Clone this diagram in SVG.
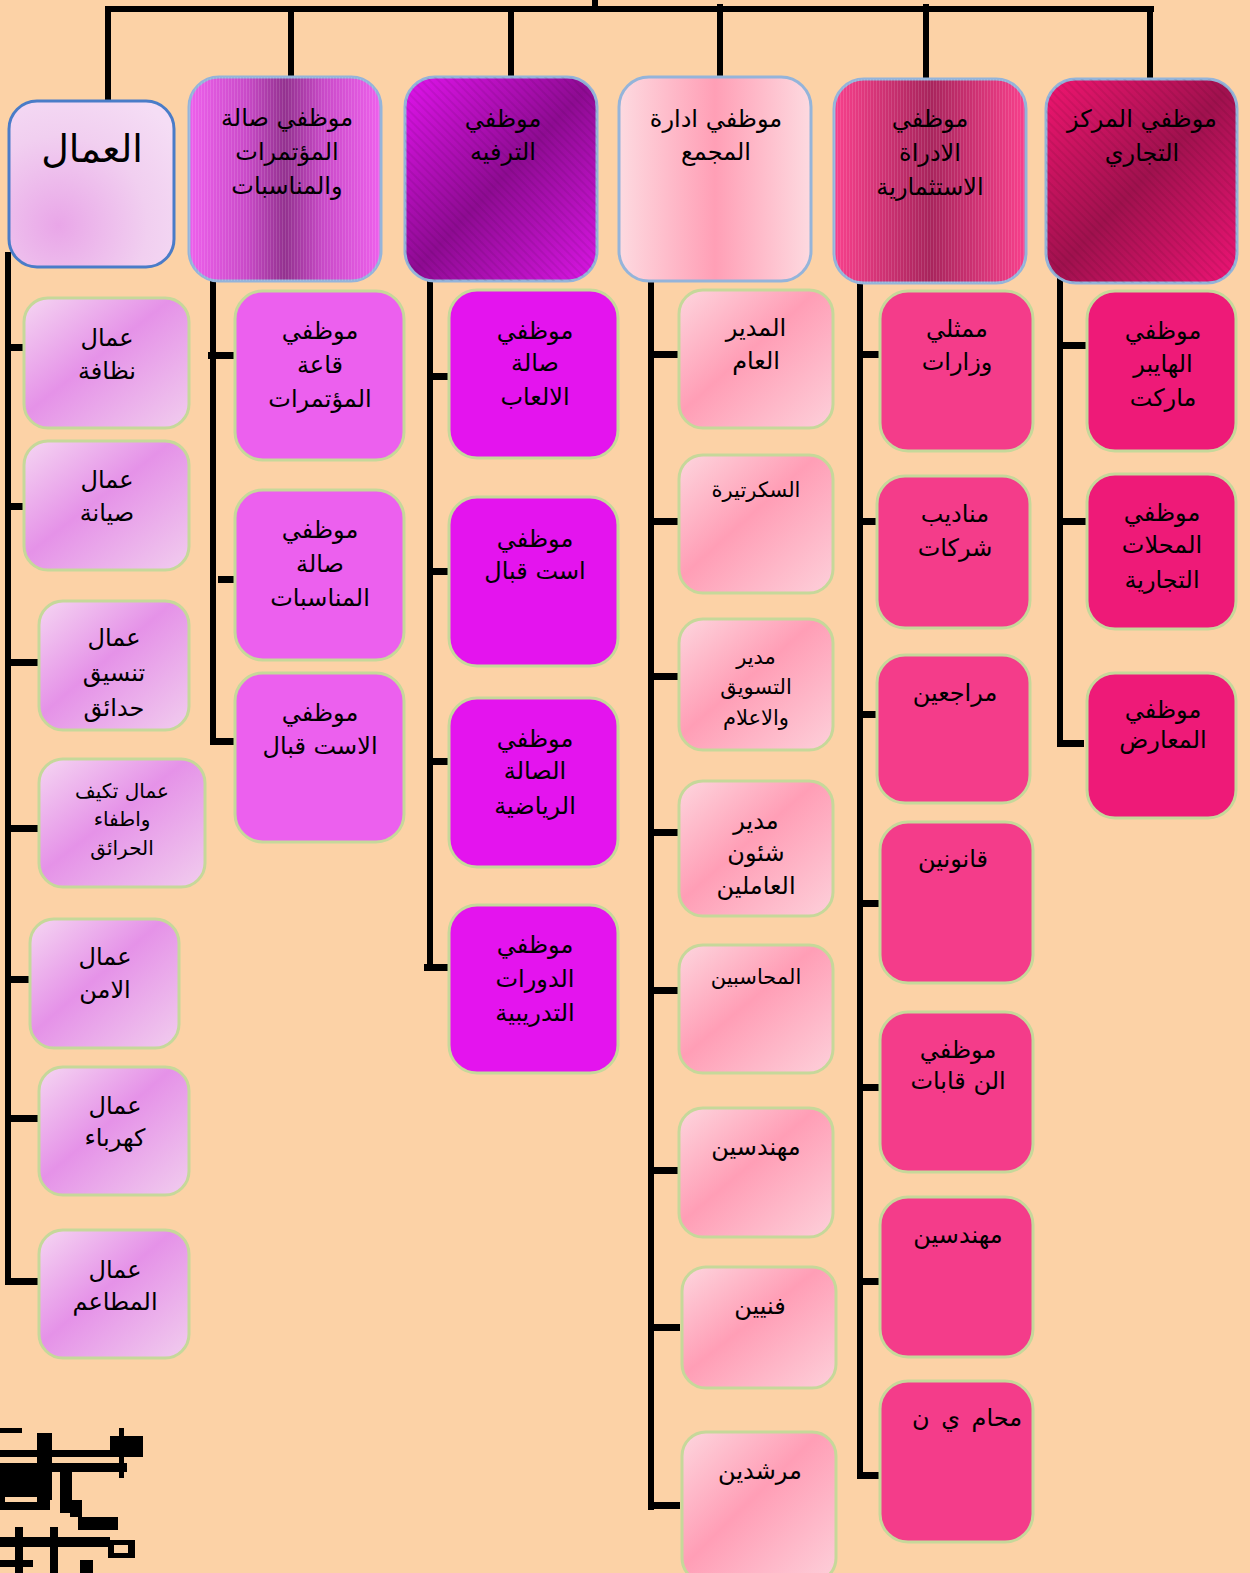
<svg xmlns="http://www.w3.org/2000/svg" width="1250" height="1573" viewBox="0 0 1250 1573">
<defs>
<style>
.t{font-family:"DejaVu Sans",sans-serif;fill:#000;text-anchor:middle;direction:rtl}
.h{font-size:24px}
.c{font-size:24px}
.s{font-size:21px}
.m{font-size:20px}
.hb{stroke:#94B4DA;stroke-width:3}
.cb{stroke:#C6D89A;stroke-width:3}
.ln{fill:#000}
</style>
<radialGradient id="g1h" cx="0.3" cy="0.75" r="0.9">
<stop offset="0" stop-color="#E9A6E8"/>
<stop offset="0.6" stop-color="#F1CFF0"/>
<stop offset="1" stop-color="#F5DDF5"/>
</radialGradient>
<linearGradient id="g1c" x1="0" y1="0" x2="1" y2="1">
<stop offset="0" stop-color="#F5D6F2"/>
<stop offset="0.45" stop-color="#E592E8"/>
<stop offset="1" stop-color="#F1CDEE"/>
</linearGradient>
<linearGradient id="g2h" x1="0" y1="0" x2="1" y2="0">
<stop offset="0" stop-color="#EE60EC"/>
<stop offset="0.3" stop-color="#C94AC8"/>
<stop offset="0.5" stop-color="#93318F"/>
<stop offset="0.7" stop-color="#C94AC8"/>
<stop offset="1" stop-color="#EE60EC"/>
</linearGradient>
<linearGradient id="g3h" x1="0" y1="0" x2="1" y2="1">
<stop offset="0" stop-color="#E014EC"/>
<stop offset="0.2" stop-color="#C010C8"/>
<stop offset="0.5" stop-color="#8E0B92"/>
<stop offset="1" stop-color="#DA16E4"/>
</linearGradient>
<linearGradient id="g4h" x1="0" y1="0" x2="1" y2="0">
<stop offset="0" stop-color="#FDDAE0"/>
<stop offset="0.5" stop-color="#FF9FB6"/>
<stop offset="1" stop-color="#FDDAE0"/>
</linearGradient>
<linearGradient id="g4c" x1="0" y1="0" x2="1" y2="1">
<stop offset="0" stop-color="#FDD6DE"/>
<stop offset="0.45" stop-color="#FF9EB6"/>
<stop offset="1" stop-color="#FDD0DA"/>
</linearGradient>
<linearGradient id="g5h" x1="0" y1="0" x2="1" y2="0">
<stop offset="0" stop-color="#F8408C"/>
<stop offset="0.5" stop-color="#A8245C"/>
<stop offset="1" stop-color="#F8408C"/>
</linearGradient>
<linearGradient id="g6h" x1="0" y1="0" x2="1" y2="1">
<stop offset="0" stop-color="#F01570"/>
<stop offset="0.5" stop-color="#A0114E"/>
<stop offset="1" stop-color="#EE1475"/>
</linearGradient>
<pattern id="vs" width="3" height="10" patternUnits="userSpaceOnUse">
<rect x="0" y="0" width="1" height="10" fill="#fff" fill-opacity="0.12"/>
</pattern>
<pattern id="ds" width="6" height="6" patternUnits="userSpaceOnUse" patternTransform="rotate(-45)">
<rect x="0" y="0" width="2" height="6" fill="#000" fill-opacity="0.07"/>
</pattern>
</defs>
<rect x="0" y="0" width="1250" height="1573" fill="#FCD2A6"/>

<g id="connectors">
<rect class="ln" x="105" y="6" width="1049" height="6"/>
<rect class="ln" x="592" y="0" width="6" height="12"/>
<rect class="ln" x="105" y="9" width="6" height="95"/>
<rect class="ln" x="288" y="9" width="6" height="87"/>
<rect class="ln" x="508" y="9" width="6" height="87"/>
<rect class="ln" x="717" y="4" width="6" height="92"/>
<rect class="ln" x="923" y="4" width="6" height="92"/>
<rect class="ln" x="1147" y="10" width="6" height="88"/>
<rect class="ln" x="5" y="252" width="6" height="1032"/>
<rect class="ln" x="5" y="344" width="33" height="7"/>
<rect class="ln" x="5" y="503" width="33" height="7"/>
<rect class="ln" x="5" y="659" width="33" height="7"/>
<rect class="ln" x="5" y="825" width="33" height="7"/>
<rect class="ln" x="5" y="976" width="33" height="7"/>
<rect class="ln" x="5" y="1115" width="33" height="7"/>
<rect class="ln" x="5" y="1278" width="33" height="7"/>
<rect class="ln" x="210" y="265" width="6" height="474"/>
<rect class="ln" x="208" y="352" width="27" height="7"/>
<rect class="ln" x="218" y="576" width="27" height="7"/>
<rect class="ln" x="210" y="738" width="32" height="7"/>
<rect class="ln" x="427" y="265" width="6" height="706"/>
<rect class="ln" x="427" y="373" width="34" height="7"/>
<rect class="ln" x="427" y="568" width="33" height="7"/>
<rect class="ln" x="427" y="758" width="33" height="7"/>
<rect class="ln" x="424" y="964" width="36" height="7"/>
<rect class="ln" x="648" y="261" width="6" height="1249"/>
<rect class="ln" x="648" y="351" width="32" height="7"/>
<rect class="ln" x="648" y="518" width="32" height="7"/>
<rect class="ln" x="648" y="673" width="32" height="7"/>
<rect class="ln" x="648" y="829" width="32" height="7"/>
<rect class="ln" x="648" y="987" width="32" height="7"/>
<rect class="ln" x="648" y="1167" width="32" height="7"/>
<rect class="ln" x="648" y="1324" width="32" height="7"/>
<rect class="ln" x="648" y="1502" width="32" height="7"/>
<rect class="ln" x="857" y="265" width="6" height="1214"/>
<rect class="ln" x="857" y="351" width="31" height="7"/>
<rect class="ln" x="857" y="518" width="31" height="7"/>
<rect class="ln" x="857" y="711" width="31" height="7"/>
<rect class="ln" x="857" y="900" width="31" height="7"/>
<rect class="ln" x="857" y="1084" width="31" height="7"/>
<rect class="ln" x="857" y="1278" width="31" height="7"/>
<rect class="ln" x="857" y="1472" width="31" height="7"/>
<rect class="ln" x="1057" y="261" width="6" height="486"/>
<rect class="ln" x="1063" y="342" width="25" height="7"/>
<rect class="ln" x="1057" y="518" width="31" height="7"/>
<rect class="ln" x="1057" y="740" width="27" height="7"/>
</g>

<g id="h1"><rect x="9" y="101" width="165" height="166" rx="28" fill="url(#g1h)" stroke="#4A7CC8" stroke-width="3"/>
<text class="t" x="92" y="162" font-size="38">العمال</text></g>
<g id="h2"><rect x="189" y="77" width="192" height="204" rx="30" fill="url(#g2h)" class="hb"/><rect x="189" y="77" width="192" height="204" rx="30" fill="url(#vs)"/>
<text class="t h" x="287" y="126">موظفي صالة</text><text class="t h" x="287" y="160">المؤتمرات</text><text class="t h" x="287" y="194">والمناسبات</text></g>
<g id="h3"><rect x="405" y="77" width="192" height="204" rx="30" fill="url(#g3h)" class="hb"/><rect x="405" y="77" width="192" height="204" rx="30" fill="url(#ds)"/>
<text class="t h" x="503" y="127">موظفي</text><text class="t h" x="503" y="160">الترفيه</text></g>
<g id="h4"><rect x="619" y="77" width="192" height="204" rx="30" fill="url(#g4h)" class="hb"/>
<text class="t h" x="716" y="127">موظفي ادارة</text><text class="t h" x="716" y="160">المجمع</text></g>
<g id="h5"><rect x="834" y="79" width="192" height="204" rx="30" fill="url(#g5h)" class="hb"/><rect x="834" y="79" width="192" height="204" rx="30" fill="url(#vs)"/>
<text class="t h" x="930" y="127">موظفي</text><text class="t h" x="930" y="161">الادراة</text><text class="t h" x="930" y="195">الاستثمارية</text></g>
<g id="h6"><rect x="1046" y="79" width="191" height="204" rx="30" fill="url(#g6h)" class="hb"/><rect x="1046" y="79" width="191" height="204" rx="30" fill="url(#ds)"/>
<text class="t h" x="1142" y="127">موظفي المركز</text><text class="t h" x="1142" y="161">التجاري</text></g>

<g id="c1a"><rect x="24" y="298" width="165" height="130" rx="24" fill="url(#g1c)" class="cb"/><text class="t c" x="107" y="346">عمال</text><text class="t c" x="107" y="379">نظافة</text></g>
<g id="c1b"><rect x="24" y="441" width="165" height="129" rx="24" fill="url(#g1c)" class="cb"/><text class="t c" x="107" y="488">عمال</text><text class="t c" x="107" y="521">صيانة</text></g>
<g id="c1c"><rect x="39" y="601" width="150" height="129" rx="24" fill="url(#g1c)" class="cb"/><text class="t c" x="114" y="646">عمال</text><text class="t c" x="114" y="681">تنسيق</text><text class="t c" x="114" y="716">حدائق</text></g>
<g id="c1d"><rect x="39" y="759" width="166" height="128" rx="24" fill="url(#g1c)" class="cb"/><text class="t m" x="122" y="798">عمال تكيف</text><text class="t m" x="122" y="826">واطفاء</text><text class="t m" x="122" y="855">الحرائق</text></g>
<g id="c1e"><rect x="30" y="919" width="149" height="129" rx="24" fill="url(#g1c)" class="cb"/><text class="t c" x="105" y="965">عمال</text><text class="t c" x="105" y="998">الامن</text></g>
<g id="c1f"><rect x="39" y="1067" width="150" height="128" rx="24" fill="url(#g1c)" class="cb"/><text class="t c" x="115" y="1114">عمال</text><text class="t c" x="115" y="1146">كهرباء</text></g>
<g id="c1g"><rect x="39" y="1230" width="150" height="128" rx="24" fill="url(#g1c)" class="cb"/><text class="t c" x="115" y="1278">عمال</text><text class="t c" x="115" y="1310">المطاعم</text></g>

<g id="c2a"><rect x="235" y="291" width="169" height="169" rx="28" fill="#EC60EE" class="cb"/><text class="t c" x="320" y="339">موظفي</text><text class="t c" x="320" y="373">قاعة</text><text class="t c" x="320" y="407">المؤتمرات</text></g>
<g id="c2b"><rect x="235" y="490" width="169" height="170" rx="28" fill="#EC60EE" class="cb"/><text class="t c" x="320" y="538">موظفي</text><text class="t c" x="320" y="572">صالة</text><text class="t c" x="320" y="606">المناسبات</text></g>
<g id="c2c"><rect x="235" y="673" width="169" height="169" rx="28" fill="#EC60EE" class="cb"/><text class="t c" x="320" y="721">موظفي</text><text class="t c" x="320" y="754">الاست قبال</text></g>

<g id="c3a"><rect x="449" y="290" width="169" height="168" rx="28" fill="#E414EE" class="cb"/><text class="t c" x="535" y="339">موظفي</text><text class="t c" x="535" y="371">صالة</text><text class="t c" x="535" y="405">الالعاب</text></g>
<g id="c3b"><rect x="449" y="497" width="169" height="169" rx="28" fill="#E414EE" class="cb"/><text class="t c" x="535" y="547">موظفي</text><text class="t c" x="535" y="579">است قبال</text></g>
<g id="c3c"><rect x="449" y="698" width="169" height="169" rx="28" fill="#E414EE" class="cb"/><text class="t c" x="535" y="747">موظفي</text><text class="t c" x="535" y="779">الصالة</text><text class="t c" x="535" y="814">الرياضية</text></g>
<g id="c3d"><rect x="449" y="905" width="169" height="168" rx="28" fill="#E414EE" class="cb"/><text class="t c" x="535" y="953">موظفي</text><text class="t c" x="535" y="987">الدورات</text><text class="t c" x="535" y="1021">التدريبية</text></g>

<g id="c4a"><rect x="679" y="290" width="154" height="138" rx="24" fill="url(#g4c)" class="cb"/><text class="t c" x="756" y="336">المدير</text><text class="t c" x="756" y="369">العام</text></g>
<g id="c4b"><rect x="679" y="455" width="154" height="138" rx="24" fill="url(#g4c)" class="cb"/><text class="t s" x="756" y="497">السكرتيرة</text></g>
<g id="c4c"><rect x="679" y="619" width="154" height="131" rx="24" fill="url(#g4c)" class="cb"/><text class="t s" x="756" y="664">مدير</text><text class="t s" x="756" y="694">التسويق</text><text class="t s" x="756" y="725">والاعلام</text></g>
<g id="c4d"><rect x="679" y="781" width="154" height="135" rx="24" fill="url(#g4c)" class="cb"/><text class="t c" x="756" y="829">مدير</text><text class="t c" x="756" y="861">شئون</text><text class="t c" x="756" y="894">العاملين</text></g>
<g id="c4e"><rect x="679" y="945" width="154" height="128" rx="24" fill="url(#g4c)" class="cb"/><text class="t s" x="756" y="984">المحاسبين</text></g>
<g id="c4f"><rect x="679" y="1108" width="154" height="129" rx="24" fill="url(#g4c)" class="cb"/><text class="t c" x="756" y="1155">مهندسين</text></g>
<g id="c4g"><rect x="682" y="1267" width="154" height="121" rx="24" fill="url(#g4c)" class="cb"/><text class="t c" x="760" y="1314">فنيين</text></g>
<g id="c4h"><rect x="682" y="1432" width="154" height="150" rx="24" fill="url(#g4c)" class="cb"/><text class="t c" x="760" y="1479">مرشدين</text></g>

<g id="c5a"><rect x="880" y="291" width="153" height="160" rx="28" fill="#F43C8A" class="cb"/><text class="t c" x="957" y="337">ممثلي</text><text class="t c" x="957" y="370">وزارات</text></g>
<g id="c5b"><rect x="877" y="476" width="153" height="152" rx="28" fill="#F43C8A" class="cb"/><text class="t c" x="955" y="522">مناديب</text><text class="t c" x="955" y="556">شركات</text></g>
<g id="c5c"><rect x="877" y="655" width="153" height="148" rx="28" fill="#F43C8A" class="cb"/><text class="t c" x="955" y="701">مراجعين</text></g>
<g id="c5d"><rect x="880" y="822" width="153" height="161" rx="28" fill="#F43C8A" class="cb"/><text class="t c" x="953" y="867">قانونين</text></g>
<g id="c5e"><rect x="880" y="1012" width="153" height="160" rx="28" fill="#F43C8A" class="cb"/><text class="t c" x="958" y="1058">موظفي</text><text class="t c" x="958" y="1089">الن قابات</text></g>
<g id="c5f"><rect x="880" y="1197" width="153" height="160" rx="28" fill="#F43C8A" class="cb"/><text class="t c" x="958" y="1243">مهندسين</text></g>
<g id="c5g"><rect x="880" y="1381" width="153" height="161" rx="28" fill="#F43C8A" class="cb"/><text class="t c" x="967" y="1426" word-spacing="4">محام ي ن</text></g>

<g id="c6a"><rect x="1087" y="291" width="149" height="160" rx="28" fill="#EE1A78" class="cb"/><text class="t c" x="1163" y="339">موظفي</text><text class="t c" x="1163" y="372">الهايبر</text><text class="t c" x="1163" y="406">ماركت</text></g>
<g id="c6b"><rect x="1087" y="474" width="149" height="155" rx="28" fill="#EE1A78" class="cb"/><text class="t c" x="1162" y="521">موظفي</text><text class="t c" x="1162" y="553">المحلات</text><text class="t c" x="1162" y="588">التجارية</text></g>
<g id="c6c"><rect x="1087" y="673" width="149" height="145" rx="28" fill="#EE1A78" class="cb"/><text class="t c" x="1163" y="718">موظفي</text><text class="t c" x="1163" y="748">المعارض</text></g>

<g id="artifact" fill="#000">
<rect x="0" y="1428" width="22" height="5"/>
<rect x="110" y="1436" width="33" height="21"/>
<rect x="119" y="1428" width="5" height="50"/>
<rect x="37" y="1433" width="15" height="67"/>
<rect x="0" y="1450" width="123" height="7"/>
<rect x="0" y="1463" width="127" height="9"/>
<rect x="60" y="1470" width="12" height="43"/>
<rect x="0" y="1472" width="50" height="38"/>
<rect x="5" y="1497" width="32" height="5" fill="#FCD2A6"/>
<rect x="70" y="1500" width="12" height="17"/>
<rect x="78" y="1517" width="40" height="13"/>
<rect x="108" y="1540" width="27" height="18"/>
<rect x="114" y="1545" width="14" height="8" fill="#FCD2A6"/>
<rect x="50" y="1527" width="8" height="46"/>
<rect x="15" y="1527" width="8" height="46"/>
<rect x="0" y="1537" width="110" height="10"/>
<rect x="0" y="1560" width="33" height="7"/>
<rect x="80" y="1560" width="13" height="13"/>
</g>
</svg>
